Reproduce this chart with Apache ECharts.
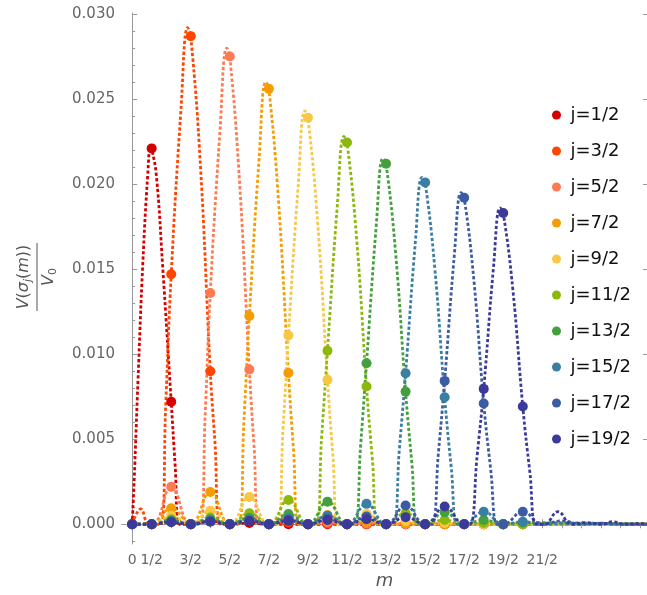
<!DOCTYPE html>
<html>
<head>
<meta charset="utf-8">
<script src="https://cdn.jsdelivr.net/npm/echarts@6/dist/echarts.min.js"></script>
<style>
  html, body { margin: 0; padding: 0; background: #fff; }
  #chart { width: 647px; height: 595px; }
</style>
</head>
<body>
<div id="chart"></div>
<script>
// m positions of the dots (0 .. 10, step 1/2)
const mVals = [0, 0.5, 1, 1.5, 2, 2.5, 3, 3.5, 4, 4.5, 5, 5.5, 6, 6.5, 7, 7.5, 8, 8.5, 9, 9.5, 10];

// bottom tick labels
const xTickVals = [0, 0.5, 1.5, 2.5, 3.5, 4.5, 5.5, 6.5, 7.5, 8.5, 9.5, 10.5];
const xTickLabels = ['0', '1/2', '3/2', '5/2', '7/2', '9/2', '11/2', '13/2', '15/2', '17/2', '19/2', '21/2'];
const yTickVals = [0, 0.005, 0.01, 0.015, 0.02, 0.025, 0.03];

const jNames = ['j=1/2', 'j=3/2', 'j=5/2', 'j=7/2', 'j=9/2', 'j=11/2', 'j=13/2', 'j=15/2', 'j=17/2', 'j=19/2'];
const colors = ['#d40000', '#ff4500', '#ff7a52', '#f59d00', '#f8c845', '#8cb80c', '#43a03c', '#3a7ea2', '#3b5ba2', '#3b3a9a'];

// dot values, in units of 1e-3, at mVals
const pts_1 = [0, 22.1, 7.2, 0, 0.2, 0, 0.08, 0, 0, 0, 0, 0, 0, 0, 0, 0, 0, 0, 0, 0, 0];
const pts_3 = [0, 0, 14.7, 28.7, 9.0, 0, 0.35, 0, 0.1, 0, 0.04, 0, 0, 0, 0, 0, 0, 0, 0, 0, 0];
const pts_5 = [0, 0, 2.2, 0, 13.6, 27.5, 9.1, 0, 0.45, 0, 0.12, 0, 0.05, 0, 0, 0, 0, 0, 0, 0, 0];
const pts_7 = [0, 0, 0.94, 0, 1.9, 0, 12.25, 25.6, 8.9, 0, 0.55, 0, 0.15, 0, 0.06, 0, 0, 0, 0, 0, 0];
const pts_9 = [0, 0, 0.5, 0, 0.8, 0, 1.6, 0, 11.1, 23.9, 8.5, 0, 0.6, 0, 0.18, 0, 0.07, 0, 0, 0, 0];
const pts_11 = [0, 0, 0.3, 0, 0.4, 0, 0.65, 0, 1.43, 0, 10.2, 22.45, 8.1, 0, 0.65, 0, 0.25, 0, 0.08, 0, 0];
const pts_13 = [0, 0, 0.22, 0, 0.3, 0, 0.38, 0, 0.6, 0, 1.33, 0, 9.47, 21.2, 7.8, 0, 0.7, 0, 0.25, 0, 0.1];
const pts_15 = [0, 0, 0.18, 0, 0.22, 0, 0.28, 0, 0.35, 0, 0.5, 0, 1.2, 0, 8.88, 20.1, 7.47, 0, 0.74, 0, 0.15];
const pts_17 = [0, 0, 0.15, 0, 0.18, 0, 0.22, 0, 0.26, 0, 0.33, 0, 0.45, 0, 1.1, 0, 8.43, 19.2, 7.1, 0, 0.74];
const pts_19 = [0, 0, 0.12, 0, 0.15, 0, 0.18, 0, 0.2, 0, 0.25, 0, 0.3, 0, 0.42, 0, 1.04, 0, 7.96, 18.3, 6.92];

// extra samples of the dotted curves between the dots, [m, value*1e3]
const crv_1 = [[0.05, 2.5], [0.15, 8.5], [0.27, 15.2], [0.4, 20.6], [0.47, 22.2], [0.62, 20.5], [0.78, 15.2], [1.1, 3.5], [1.21, 0], [13.18, 0]];
const crv_3 = [[0.22, 0.9], [0.42, 0], [0.73, 0], [0.86, 7.1], [1.25, 24.4], [1.42, 29.2], [1.75, 21.0], [2.12, 4.8], [2.26, 0], [13.18, 0]];
const crv_5 = [[1.73, 0], [1.87, 6.5], [2.25, 23.2], [2.42, 28.0], [2.75, 20.1], [3.12, 4.6], [3.27, 0], [13.18, 0]];
const crv_7 = [[2.72, 0], [2.86, 6.0], [3.25, 21.5], [3.42, 26.0], [3.75, 18.9], [4.13, 4.4], [4.28, 0], [13.18, 0]];
const crv_9 = [[3.71, 0], [3.86, 5.5], [4.25, 19.9], [4.42, 24.3], [4.75, 17.7], [5.14, 4.0], [5.29, 0], [13.18, 0]];
const crv_11 = [[4.7, 0], [4.85, 5.1], [5.25, 18.7], [5.42, 22.8], [5.75, 16.7], [6.15, 3.8], [6.3, 0], [13.18, 0]];
const crv_13 = [[5.69, 0], [5.85, 4.7], [6.25, 17.6], [6.42, 21.5], [6.75, 15.8], [7.16, 3.6], [7.31, 0], [13.18, 0]];
const crv_15 = [[6.68, 0], [6.84, 4.4], [7.25, 16.6], [7.42, 20.4], [7.75, 15.0], [8.17, 3.3], [8.33, 0], [10.5, 0], [11, 0.05], [13.18, 0]];
const crv_17 = [[7.67, 0], [7.84, 4.2], [8.25, 15.9], [8.42, 19.5], [8.75, 14.3], [9.18, 3.2], [9.35, 0], [10.5, 0], [11, 0.2], [11.5, 0], [12, 0.06], [12.5, 0], [13.18, 0]];
const crv_19 = [[8.65, 0], [8.83, 4.0], [9.25, 15.1], [9.42, 18.6], [9.75, 13.7], [10.18, 3.1], [10.35, 0], [10.55, 0], [10.9, 0.74], [11.25, 0], [11.6, 0.1], [12, 0], [12.3, 0.15], [12.6, 0], [13, 0.05], [13.18, 0]];

const allPts = [pts_1, pts_3, pts_5, pts_7, pts_9, pts_11, pts_13, pts_15, pts_17, pts_19];
const allCrv = [crv_1, crv_3, crv_5, crv_7, crv_9, crv_11, crv_13, crv_15, crv_17, crv_19];

const FONT = 'DejaVu Sans';
const frameColor = '#999';
const labelColor = '#666';

const topTicks = [];
for (let k = 0; k <= 26; k++) topTicks.push(k * 0.5);
const yMinor = [];
for (let k = -1; k <= 30; k++) yMinor.push(+(k * 0.001).toFixed(3));

const chart = echarts.init(document.getElementById('chart'));

const series = [];
allCrv.forEach((extra, k) => {
    const d = mVals.map((m, i) => [m, allPts[k][i] / 1000])
        .concat(extra.map(p => [p[0], p[1] / 1000]));
    d.sort((a, b) => a[0] - b[0]);
    series.push({
        name: 'curve' + k,
        type: 'line',
        data: d,
        smooth: 0.45,
        showSymbol: false,
        silent: true,
        z: 2,
        lineStyle: { color: colors[k], width: 2.8, type: [3.2, 2.2] }
    });
});
allPts.forEach((vals, k) => {
    series.push({
        name: jNames[k],
        type: 'scatter',
        data: mVals.map((m, i) => [m, vals[i] / 1000]),
        symbolSize: 10,
        z: 3,
        itemStyle: { color: colors[k], opacity: 1 }
    });
});

const xMin = -0.26, xMax = 13.18;
const yMin = -0.00116, yMax = 0.03006;

const option = {
    animation: false,
    backgroundColor: '#fff',
    grid: { left: 122, right: 0, top: 13, bottom: 51, containLabel: false },
    legend: {
        data: jNames,
        orient: 'vertical',
        left: 552,
        top: 105,
        padding: 0,
        icon: 'circle',
        itemWidth: 18,
        itemHeight: 9,
        itemGap: 16,
        textStyle: { fontFamily: FONT, fontSize: 18, color: '#111', lineHeight: 20 }
    },
    xAxis: [{
        type: 'value', position: 'bottom', min: xMin, max: xMax,
        axisLine: { show: true, lineStyle: { color: frameColor } },
        axisTick: { show: true, inside: true, length: 5, customValues: xTickVals, lineStyle: { color: frameColor } },
        axisLabel: {
            customValues: xTickVals, margin: 9, color: labelColor, fontFamily: FONT, fontSize: 14,
            formatter: v => { const i = xTickVals.findIndex(t => Math.abs(t - v) < 1e-6); return i >= 0 ? xTickLabels[i] : ''; }
        },
        splitLine: { show: false },
        name: 'm', nameLocation: 'middle', nameGap: 28,
        nameTextStyle: { fontFamily: FONT, fontStyle: 'italic', fontSize: 18, color: '#555' }
    }, {
        type: 'value', position: 'top', min: xMin, max: xMax,
        axisLine: { show: true, lineStyle: { color: frameColor } },
        axisTick: { show: true, inside: true, length: 4, customValues: topTicks, lineStyle: { color: frameColor } },
        axisLabel: { show: false },
        splitLine: { show: false }
    }],
    yAxis: [{
        type: 'value', position: 'left', min: yMin, max: yMax,
        axisLine: { show: true, lineStyle: { color: frameColor } },
        axisTick: { show: true, inside: true, length: 5, customValues: yTickVals, lineStyle: { color: frameColor } },
        axisLabel: { customValues: yTickVals, margin: 7, color: labelColor, fontFamily: FONT, fontSize: 15, formatter: v => v.toFixed(3) },
        splitLine: { show: false }
    }, {
        type: 'value', position: 'left', min: yMin, max: yMax,
        axisLine: { show: false },
        axisTick: { show: true, inside: true, length: 3, customValues: yMinor, lineStyle: { color: frameColor } },
        axisLabel: { show: false },
        splitLine: { show: false }
    }, {
        type: 'value', position: 'right', min: yMin, max: yMax,
        axisLine: { show: false },
        axisTick: { show: true, inside: true, length: 4, customValues: yTickVals, lineStyle: { color: frameColor } },
        axisLabel: { show: false },
        splitLine: { show: false }
    }],
    graphic: [{
        type: 'group',
        x: 37, y: 277,
        rotation: Math.PI / 2,
        children: [{
            type: 'text', x: 0, y: -3,
            style: {
                text: '{i|V}{n|(}{i|σ}{s|j}{n|(}{i|m}{n|))}',
                align: 'center', verticalAlign: 'bottom', fill: '#555',
                rich: {
                    i: { fontFamily: FONT, fontStyle: 'italic', fontSize: 16, lineHeight: 20 },
                    n: { fontFamily: FONT, fontSize: 16, lineHeight: 20 },
                    s: { fontFamily: FONT, fontStyle: 'italic', fontSize: 11, lineHeight: 12, verticalAlign: 'bottom' }
                }
            }
        }, {
            type: 'line',
            shape: { x1: -34, y1: 0, x2: 34, y2: 0 },
            style: { stroke: '#555', lineWidth: 1 }
        }, {
            type: 'text', x: 0, y: 2,
            style: {
                text: '{i|V}{s|0}',
                align: 'center', verticalAlign: 'top', fill: '#555',
                rich: {
                    i: { fontFamily: FONT, fontStyle: 'italic', fontSize: 16, lineHeight: 20 },
                    s: { fontFamily: FONT, fontSize: 11, lineHeight: 12, verticalAlign: 'bottom' }
                }
            }
        }]
    }],
    series: series
};

chart.setOption(option);
</script>
</body>
</html>
